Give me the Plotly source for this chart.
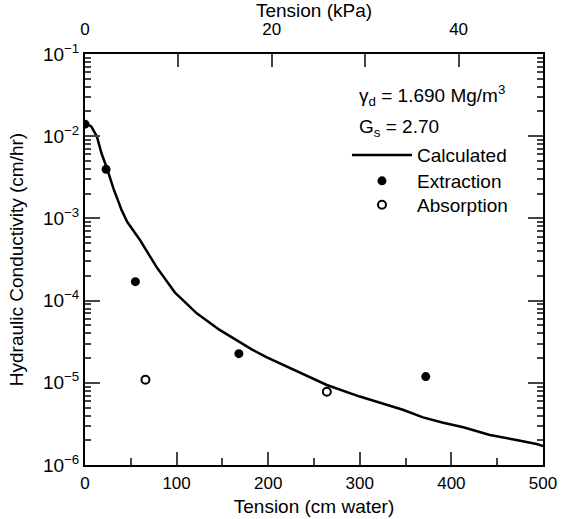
import plotly.graph_objects as go

# Calculated curve, tension (cm water) vs hydraulic conductivity (cm/hr)
calc_tension = [0, 7, 13, 18, 24, 31, 40, 46, 60, 78, 98, 122, 147, 182, 198,
                224, 264, 300, 347, 369, 391, 413, 442, 471, 493, 500]
calc_k = [1.46e-2, 1.31e-2, 9.9e-3, 6.2e-3, 4.07e-3, 2.32e-3, 1.26e-3, 9.1e-4,
          5.46e-4, 2.57e-4, 1.26e-4, 7.0e-5, 4.4e-5, 2.55e-5, 2.05e-5,
          1.5e-5, 9.4e-6, 6.8e-6, 4.7e-6, 3.8e-6, 3.27e-6, 2.88e-6, 2.32e-6,
          2.01e-6, 1.8e-6, 1.7e-6]

# measured points
extr_tension = [0, 23, 55, 168, 372]
extr_k = [1.40e-2, 3.95e-3, 1.70e-4, 2.26e-5, 1.19e-5]
abs_tension = [66, 264]
abs_k = [1.09e-5, 7.8e-6]

# axis ticks
y_tickvals = [1e-1, 1e-2, 1e-3, 1e-4, 1e-5, 1e-6]
y_ticktext = ["10<sup>−1</sup>", "10<sup>−2</sup>", "10<sup>−3</sup>",
              "10<sup>−4</sup>", "10<sup>−5</sup>", "10<sup>−6</sup>"]
kpa_tickvals = [0, 10, 20, 30, 40]
kpa_ticktext = ["0", "", "20", "", "40"]

CM_PER_KPA = 10.197
FONT = "Liberation Sans, Arial, sans-serif"

fig = go.Figure()

fig.add_trace(go.Scatter(
    x=calc_tension, y=calc_k, mode="lines", name="Calculated",
    line=dict(color="black", width=2.5), legend="legend",
))
fig.add_trace(go.Scatter(
    x=extr_tension, y=extr_k, mode="markers", name="Extraction",
    marker=dict(color="black", size=9, symbol="circle"), legend="legend2",
))
fig.add_trace(go.Scatter(
    x=abs_tension, y=abs_k, mode="markers", name="Absorption",
    marker=dict(color="white", size=8, symbol="circle",
                line=dict(color="black", width=2)), legend="legend3",
))
# dummy trace to activate the top kPa axis
fig.add_trace(go.Scatter(
    x=[0, 500 / CM_PER_KPA], y=[1e-6, 1e-6], xaxis="x2", mode="lines",
    line=dict(width=0), showlegend=False, hoverinfo="skip",
))

fig.add_annotation(
    text="γ<sub>d</sub> = 1.690 Mg/m<sup>3</sup>", xref="paper", yref="paper",
    x=0.594, y=0.898, xanchor="left", yanchor="middle", showarrow=False,
    font=dict(size=19, color="black", family=FONT),
)
fig.add_annotation(
    text="G<sub>s</sub> = 2.70", xref="paper", yref="paper",
    x=0.594, y=0.82, xanchor="left", yanchor="middle", showarrow=False,
    font=dict(size=19, color="black", family=FONT),
)

leg = dict(x=0.572, xanchor="left", yanchor="middle",
           bgcolor="rgba(0,0,0,0)", font=dict(size=19), itemwidth=60)

fig.update_layout(
    width=561, height=519,
    margin=dict(l=85, r=18, t=54, b=54),
    plot_bgcolor="white", paper_bgcolor="white",
    font=dict(family=FONT, size=16, color="black"),
    showlegend=True,
    legend=dict(leg, y=0.754),
    legend2=dict(leg, y=0.691),
    legend3=dict(leg, y=0.633),
    xaxis=dict(
        range=[0, 500], title=dict(text="Tension (cm water)", standoff=7),
        tickvals=[0, 100, 200, 300, 400, 500], ticks="inside", ticklen=13,
        tickwidth=2, showline=True, linewidth=2, linecolor="black",
        showgrid=False, zeroline=False, automargin=False,
        tickfont=dict(size=17), ticklabelstandoff=2,
        minor=dict(tickvals=[50, 150, 250, 350, 450], ticks="inside",
                   ticklen=7, tickwidth=2, showgrid=False),
    ),
    xaxis2=dict(
        range=[0, 500 / CM_PER_KPA], overlaying="x", side="top",
        title=dict(text="Tension (kPa)", standoff=6),
        tickvals=kpa_tickvals, ticktext=kpa_ticktext, ticks="inside",
        ticklen=13, tickwidth=2, showline=True, linewidth=2,
        linecolor="black", showgrid=False, zeroline=False, automargin=False,
        tickfont=dict(size=17), ticklabelstandoff=10,
    ),
    yaxis=dict(
        type="log", range=[-6, -1],
        title=dict(text="Hydraulic Conductivity (cm/hr)", standoff=14),
        tickvals=y_tickvals, ticktext=y_ticktext, ticks="inside",
        ticklen=15, tickwidth=2, showline=True, linewidth=2,
        linecolor="black", mirror="ticks", showgrid=False, zeroline=False,
        automargin=False, tickfont=dict(size=19),
        minor=dict(dtick="D1", ticks="inside", ticklen=6, tickwidth=1.5,
                   showgrid=False),
    ),
)

# drop the browser's default 8px page margin so the figure fills the window
fig.write_html("out.html", config={"displayModeBar": False},
               post_script="document.body.style.margin = '0';")
